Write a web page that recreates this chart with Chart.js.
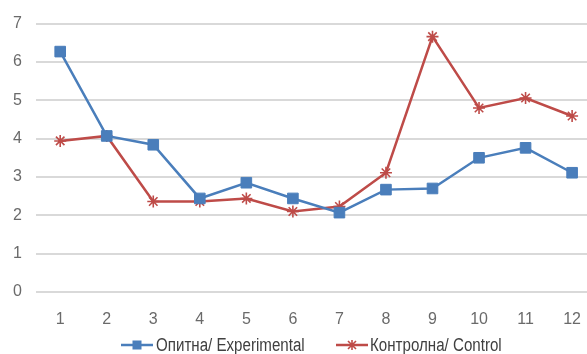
<!DOCTYPE html>
<html>
<head>
<meta charset="utf-8">
<script src="https://cdn.jsdelivr.net/npm/chart.js@4"></script>
<style>
  body { margin: 0; background: #fff; }
  #wrap { position: relative; width: 587px; height: 354px; }
  #legend span.item {
    position: absolute; top: 334px; height: 22px; line-height: 22px;
    font-family: "Liberation Sans", Arial, sans-serif; font-size: 18px; color: #404040;
    white-space: nowrap;
  }
  #legend svg { position: absolute; top: 5px; left: 0; }
  #legend span.txt { position: absolute; transform-origin: 0 50%; transform: scaleX(0.84); }
</style>
</head>
<body>
<div id="wrap">
  <canvas id="myChart1" width="587" height="354"></canvas>
  <div id="legend">
    <span class="item" style="left:121px"><svg width="32" height="12"><line x1="0" y1="6" x2="32" y2="6" stroke="#4a7ebb" stroke-width="2.5"/><rect x="11.5" y="1.5" width="9" height="9" fill="#4a7ebb"/></svg><span class="txt" style="left:35px">Опитна/ Experimental</span></span>
    <span class="item" style="left:336px"><svg width="32" height="12"><line x1="0" y1="6" x2="32" y2="6" stroke="#be4b48" stroke-width="2.5"/><path d="M12 2 L20 10 M20 2 L12 10 M16 1 L16 11" stroke="#be4b48" stroke-width="1.6"/></svg><span class="txt" style="left:34px">Контролна/ Control</span></span>
  </div>
</div>
<script>
// chart data
const sessions = [1, 2, 3, 4, 5, 6, 7, 8, 9, 10, 11, 12];
const experimental = [6.27, 4.07, 3.84, 2.44, 2.85, 2.44, 2.07, 2.67, 2.70, 3.50, 3.76, 3.11];
const control = [3.94, 4.07, 2.36, 2.36, 2.44, 2.10, 2.23, 3.11, 6.66, 4.80, 5.06, 4.59];
const yTicks = [0, 1, 2, 3, 4, 5, 6, 7];

function toPoints(vals) {
  return sessions.map((s, i) => ({ x: s, y: vals[i] }));
}

const font = { family: '"Liberation Sans", Arial, sans-serif', size: 16 };

const config = {
  type: 'line',
  data: {
    datasets: [{
      label: 'Опитна/ Experimental',
      data: toPoints(experimental),
      borderColor: '#4a7ebb',
      backgroundColor: '#4a7ebb',
      borderWidth: 2.5,
      pointStyle: 'rect',
      pointRadius: 7.5,
      pointBorderWidth: 1,
      tension: 0
    }, {
      label: 'Контролна/ Control',
      data: toPoints(control),
      borderColor: '#be4b48',
      backgroundColor: '#be4b48',
      borderWidth: 2.5,
      pointStyle: 'star',
      pointRadius: 6,
      pointBorderWidth: 1.6,
      tension: 0
    }]
  },
  options: {
    responsive: false,
    animation: false,
    layout: { autoPadding: false, padding: { top: 22, right: 0, bottom: 22, left: 0 } },
    plugins: { legend: { display: false }, tooltip: { enabled: false } },
    scales: {
      x: {
        type: 'linear',
        min: 0.48,
        max: 12.32,
        afterBuildTicks: (axis) => { axis.ticks = sessions.map(v => ({ value: v })); },
        ticks: { font: font, color: '#6a6a6a', padding: 10, maxRotation: 0 },
        grid: { display: false },
        border: { display: false },
        afterFit: (axis) => { axis.height = 40; axis.paddingLeft = 0; axis.paddingRight = 0; }
      },
      y: {
        min: 0,
        max: 7,
        afterBuildTicks: (axis) => { axis.ticks = yTicks.map(v => ({ value: v })); },
        ticks: { font: font, color: '#6a6a6a', padding: 14 },
        grid: { color: '#d9d9d9', lineWidth: 2, drawTicks: false },
        border: { display: false },
        afterFit: (axis) => { axis.width = 36; }
      }
    }
  }
};

const myChart = new Chart(document.getElementById('myChart1'), config);
</script>
</body>
</html>
